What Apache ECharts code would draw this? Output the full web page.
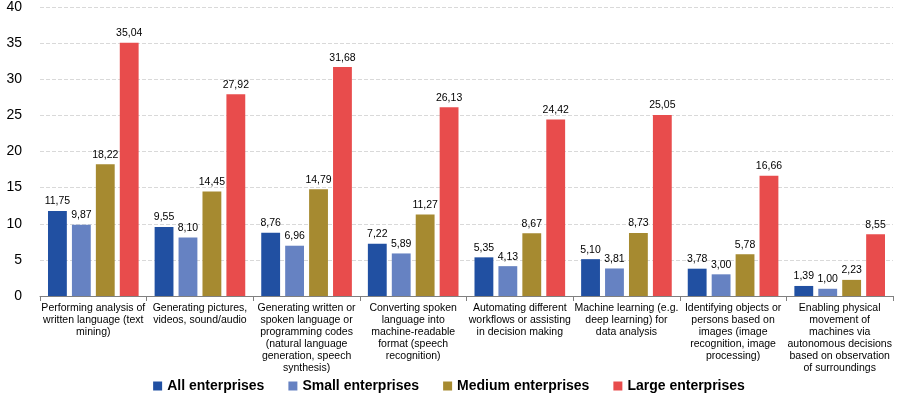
<!DOCTYPE html>
<html>
<head>
<meta charset="utf-8">
<script src="https://cdn.jsdelivr.net/npm/echarts@6/dist/echarts.min.js"></script>
<style>
  html, body { margin: 0; padding: 0; background: #fff; }
  #chart { width: 898px; height: 396px; }
</style>
</head>
<body>
<div id="chart"></div>
<script>
// AI use cases by enterprise size (% of enterprises)
const categories = [
  'Performing analysis of\nwritten language (text\nmining)',
  'Generating pictures,\nvideos, sound/audio',
  'Generating written or\nspoken language or\nprogramming codes\n(natural language\ngeneration, speech\nsynthesis)',
  'Converting spoken\nlanguage into\nmachine-readable\nformat (speech\nrecognition)',
  'Automating different\nworkflows or assisting\nin decision making',
  'Machine learning (e.g.\ndeep learning) for\ndata analysis',
  'Identifying objects or\npersons based on\nimages (image\nrecognition, image\nprocessing)',
  'Enabling physical\nmovement of\nmachines via\nautonomous decisions\nbased on observation\nof surroundings'
];
const seriesNames = ['All enterprises', 'Small enterprises', 'Medium enterprises', 'Large enterprises'];
const allEnterprises    = [11.75, 9.55, 8.76, 7.22, 5.35, 5.10, 3.78, 1.39];
const smallEnterprises  = [9.87, 8.10, 6.96, 5.89, 4.13, 3.81, 3.00, 1.00];
const mediumEnterprises = [18.22, 14.45, 14.79, 11.27, 8.67, 8.73, 5.78, 2.23];
const largeEnterprises  = [35.04, 27.92, 31.68, 26.13, 24.42, 25.05, 16.66, 8.55];
const colors = ['#2150a2', '#6682c2', '#a68a30', '#e84c4c'];

const values = [allEnterprises, smallEnterprises, mediumEnterprises, largeEnterprises];
const fontFamily = '"Liberation Sans", Arial, sans-serif';

const chart = echarts.init(document.getElementById('chart'), null, { renderer: 'canvas' });
chart.setOption({
  animation: false,
  color: colors,
  grid: { left: 40, right: 5, top: 7, bottom: 100, containLabel: false },
  legend: {
    top: 374,
    left: 'center',
    itemWidth: 9,
    itemHeight: 9,
    itemGap: 24,
    icon: 'rect',
    textStyle: { fontFamily, fontWeight: 'bold', fontSize: 14, color: '#000' },
    data: seriesNames
  },
  xAxis: {
    type: 'category',
    data: categories,
    axisLine: { lineStyle: { color: '#808080' } },
    axisTick: { show: true, length: 5, lineStyle: { color: '#808080' } },
    axisLabel: {
      interval: 0,
      fontFamily,
      fontSize: 10.5,
      lineHeight: 12,
      color: '#000',
      margin: 6
    }
  },
  yAxis: {
    type: 'value',
    min: 0,
    max: 40,
    interval: 5,
    axisLine: { show: false },
    axisTick: { show: false },
    splitLine: { lineStyle: { color: '#d9d9d9', type: 'dashed', width: 1 } },
    axisLabel: { fontFamily, fontSize: 14, color: '#000', margin: 18 }
  },
  series: values.map((v, i) => ({
    name: seriesNames[i],
    type: 'bar',
    data: v,
    barGap: '27%',
    barCategoryGap: '15%',
    label: {
      show: true,
      position: 'top',
      distance: 4,
      fontFamily,
      fontSize: 10.5,
      color: '#000',
      formatter: p => p.value.toFixed(2).replace('.', ',')
    }
  }))
});
</script>
</body>
</html>
